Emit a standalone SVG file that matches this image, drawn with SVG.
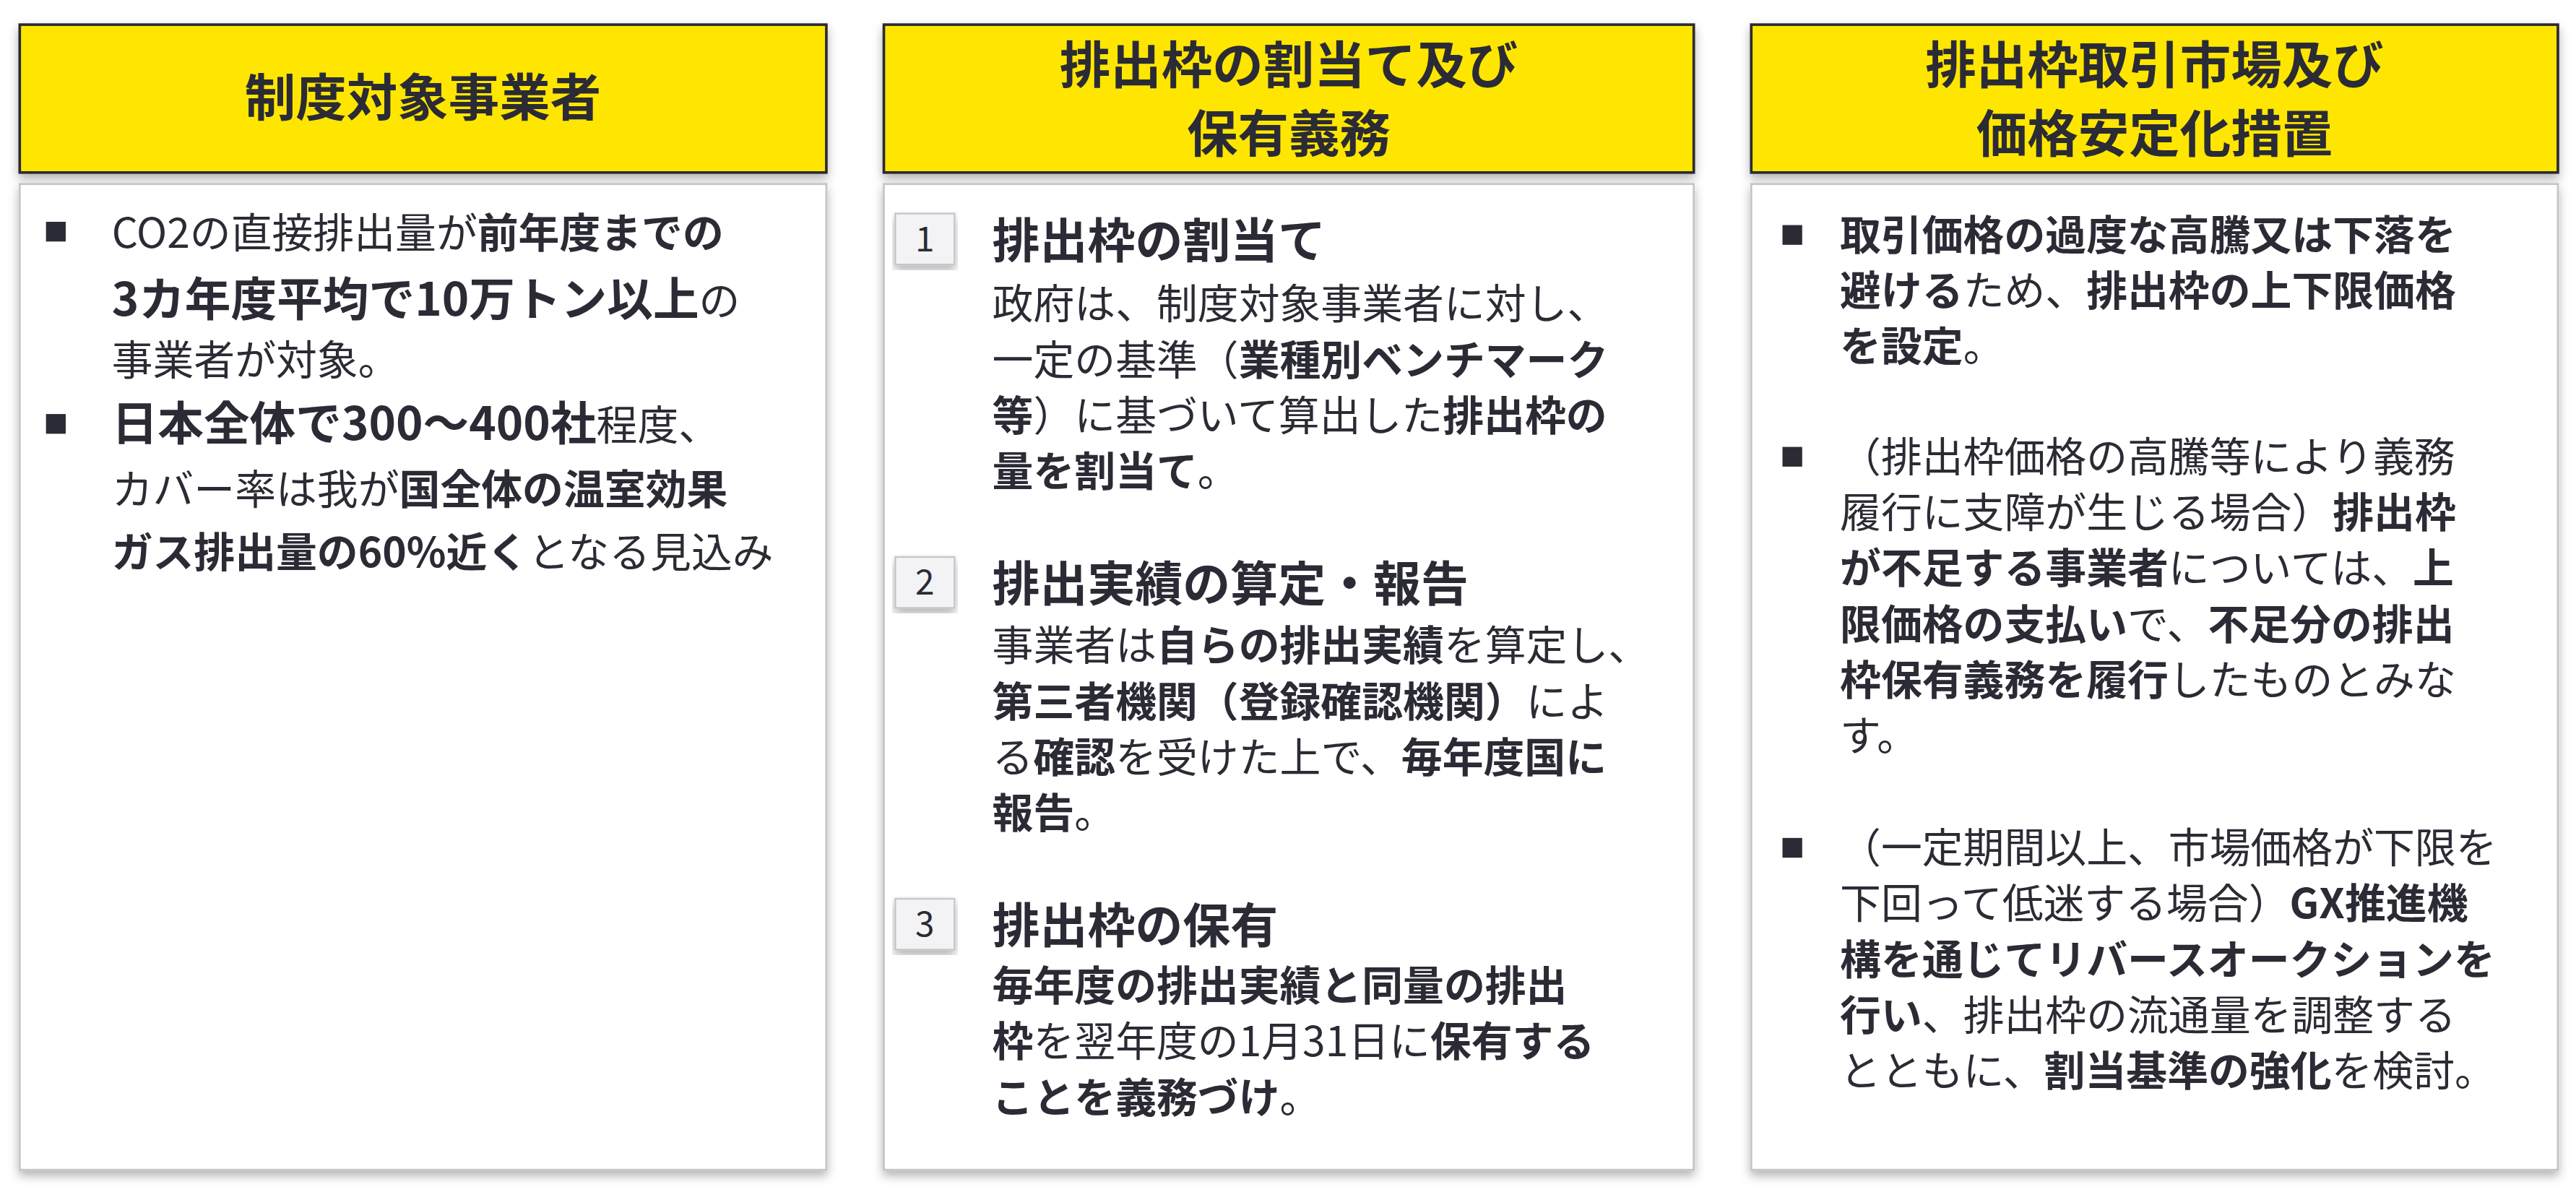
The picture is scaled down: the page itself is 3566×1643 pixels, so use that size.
<svg xmlns="http://www.w3.org/2000/svg" width="3566" height="1643" viewBox="0 0 3566 1643">
<defs>
<filter id="sh" x="-5%" y="-5%" width="110%" height="115%"><feDropShadow dx="0" dy="3" stdDeviation="3" flood-color="#000" flood-opacity="0.3"/></filter>
</defs>
<style>
.hd{fill:#FFE600;stroke:#2a2a30;stroke-width:1.6}
.bd{fill:#fff;stroke:#c4c4ca;stroke-width:1.2}
.nb{fill:#f3f3f5;stroke:#c4c4ca;stroke-width:1}
text{font-family:"Noto Sans CJK JP","Noto Sans",sans-serif;fill:#2b2b35}
.h{font-size:31px;font-weight:bold;text-anchor:middle}
.t{font-size:25px}
.tl{font-size:28px}
.ti{font-size:29px;font-weight:bold}
.n{font-size:21px;text-anchor:middle}
.sq{fill:#2b2b35}
tspan.b{font-weight:bold}
</style>
<rect width="3566" height="1643" fill="#fff"/>
<g transform="scale(2.2742)">
<g id="col1">
<rect class="hd" x="12" y="15" width="491" height="90" filter="url(#sh)"/>
<text class="h" x="257.5" y="71">制度対象事業者</text>
<rect class="bd" x="12" y="112" width="491" height="600" filter="url(#sh)"/>
<rect class="sq" x="28" y="135" width="12" height="12"/>
<text class="t" x="68" y="151">CO2の直接排出量が<tspan class="b">前年度までの</tspan></text>
<text class="tl" x="68" y="192"><tspan class="b">3カ年度平均で10万トン以上</tspan><tspan style="font-size:25px">の</tspan></text>
<text class="t" x="68" y="228">事業者が対象。</text>
<rect class="sq" x="28" y="252" width="12" height="12"/>
<text class="tl" x="68" y="268"><tspan class="b">日本全体で300～400社</tspan><tspan style="font-size:25px">程度、</tspan></text>
<text class="t" x="68" y="307">カバー率は我が<tspan class="b">国全体の温室効果</tspan></text>
<text class="t" x="68" y="345"><tspan class="b">ガス排出量の60%近く</tspan>となる見込み</text>
</g>
<g id="col2">
<rect class="hd" x="538" y="15" width="493" height="90" filter="url(#sh)"/>
<text class="h" x="784.5" y="51">排出枠の割当て及び</text>
<text class="h" x="784.5" y="93">保有義務</text>
<rect class="bd" x="538" y="112" width="493" height="600" filter="url(#sh)"/>
<rect class="nb" x="545" y="130" width="36" height="31" filter="url(#sh)"/>
<text class="n" x="563" y="153">1</text>
<text class="ti" x="604" y="157">排出枠の割当て</text>
<text class="t" x="604" y="194">政府は、制度対象事業者に対し、</text>
<text class="t" x="604" y="228">一定の基準（<tspan class="b">業種別ベンチマーク</tspan></text>
<text class="t" x="604" y="262"><tspan class="b">等</tspan>）に基づいて算出した<tspan class="b">排出枠の</tspan></text>
<text class="t" x="604" y="296"><tspan class="b">量を割当て</tspan>。</text>
<rect class="nb" x="545" y="339" width="36" height="31" filter="url(#sh)"/>
<text class="n" x="563" y="362">2</text>
<text class="ti" x="604" y="366">排出実績の算定・報告</text>
<text class="t" x="604" y="402">事業者は<tspan class="b">自らの排出実績</tspan>を算定し、</text>
<text class="t" x="604" y="436"><tspan class="b">第三者機関（登録確認機関）</tspan>によ</text>
<text class="t" x="604" y="470">る<tspan class="b">確認</tspan>を受けた上で、<tspan class="b">毎年度国に</tspan></text>
<text class="t" x="604" y="504"><tspan class="b">報告</tspan>。</text>
<rect class="nb" x="545" y="547" width="36" height="31" filter="url(#sh)"/>
<text class="n" x="563" y="570">3</text>
<text class="ti" x="604" y="574">排出枠の保有</text>
<text class="t" x="604" y="609"><tspan class="b">毎年度の排出実績と同量の排出</tspan></text>
<text class="t" x="604" y="643"><tspan class="b">枠</tspan>を翌年度の1月31日に<tspan class="b">保有する</tspan></text>
<text class="t" x="604" y="677"><tspan class="b">ことを義務づけ</tspan>。</text>
</g>
<g id="col3">
<rect class="hd" x="1066" y="15" width="491" height="90" filter="url(#sh)"/>
<text class="h" x="1311.5" y="51">排出枠取引市場及び</text>
<text class="h" x="1311.5" y="93">価格安定化措置</text>
<rect class="bd" x="1066" y="112" width="491" height="600" filter="url(#sh)"/>
<rect class="sq" x="1085" y="137" width="12" height="12"/>
<text class="t" x="1120" y="152"><tspan class="b">取引価格の過度な高騰又は下落を</tspan></text>
<text class="t" x="1120" y="186"><tspan class="b">避ける</tspan>ため、<tspan class="b">排出枠の上下限価格</tspan></text>
<text class="t" x="1120" y="220"><tspan class="b">を設定</tspan>。</text>
<rect class="sq" x="1085" y="272" width="12" height="12"/>
<text class="t" x="1120" y="287">（排出枠価格の高騰等により義務</text>
<text class="t" x="1120" y="321">履行に支障が生じる場合）<tspan class="b">排出枠</tspan></text>
<text class="t" x="1120" y="355"><tspan class="b">が不足する事業者</tspan>については、<tspan class="b">上</tspan></text>
<text class="t" x="1120" y="389"><tspan class="b">限価格の支払い</tspan>で、<tspan class="b">不足分の排出</tspan></text>
<text class="t" x="1120" y="423"><tspan class="b">枠保有義務を履行</tspan>したものとみな</text>
<text class="t" x="1120" y="457">す。</text>
<rect class="sq" x="1085" y="510" width="12" height="12"/>
<text class="t" x="1120" y="525">（一定期間以上、市場価格が下限を</text>
<text class="t" x="1120" y="559">下回って低迷する場合）<tspan class="b">GX推進機</tspan></text>
<text class="t" x="1120" y="593"><tspan class="b">構を通じてリバースオークションを</tspan></text>
<text class="t" x="1120" y="627"><tspan class="b">行い</tspan>、排出枠の流通量を調整する</text>
<text class="t" x="1120" y="661">とともに、<tspan class="b">割当基準の強化</tspan>を検討。</text>
</g>
<g id="connectors"/>
</g>
</svg>
